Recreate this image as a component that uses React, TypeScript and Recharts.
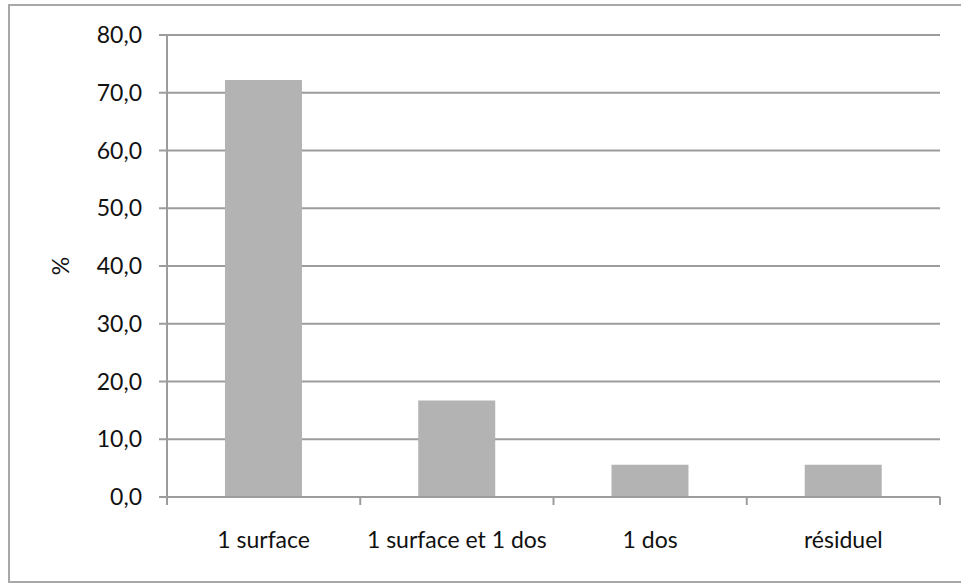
import React from "react";
import { BarChart, Bar, XAxis, YAxis, CartesianGrid, Label } from "recharts";

const categories = ["1 surface", "1 surface et 1 dos", "1 dos", "résiduel"];
const percentValues = [72.2, 16.7, 5.6, 5.6];
const yTicks = [0, 10, 20, 30, 40, 50, 60, 70, 80];

const data = categories.map((c, i) => ({ name: c, value: percentValues[i] }));

const FONT = "Lato, 'Open Sans', sans-serif";
const GRID = "#9c9c9c";

const XTick = (props: any) => {
  const { x, y, payload, index, visibleTicksCount } = props;
  const off = payload.offset || 0;
  const axisY = y - 35;
  const isLast = index === visibleTicksCount - 1;
  return (
    <g>
      <line x1={x - off} x2={x - off} y1={axisY} y2={axisY + 8} stroke={GRID} strokeWidth={2} />
      {isLast && (
        <line x1={x + off} x2={x + off} y1={axisY} y2={axisY + 8} stroke={GRID} strokeWidth={2} />
      )}
      <text x={x} y={y} dy="0.71em" textAnchor="middle" fill="#111" fontSize={23} fontFamily={FONT}>
        {payload.value}
      </text>
    </g>
  );
};

const PercentLabel = (props: any) => {
  const vb = props.viewBox || {};
  const cy = vb.y + vb.height / 2;
  const cx = 60;
  return (
    <text
      x={cx}
      y={cy}
      transform={`rotate(-90, ${cx}, ${cy})`}
      textAnchor="middle"
      dominantBaseline="central"
      fontSize={23}
      fontFamily={FONT}
      fill="#111"
    >
      %
    </text>
  );
};

export default function App() {
  return (
    <div style={{ position: "absolute", left: 0, top: 0, width: 961, height: 583, background: "#fff" }}>
      <div
        style={{
          position: "absolute",
          left: 8,
          top: 4,
          width: 960,
          height: 579,
          boxSizing: "border-box",
          borderTop: "2px solid #a8a8a8",
          borderLeft: "2px solid #a8a8a8",
          borderBottom: "2px solid #a8a8a8",
        }}
      />
      <div style={{ position: "absolute", left: 0, top: 0 }}>
        <BarChart
          width={961}
          height={583}
          data={data}
          margin={{ top: 35, right: 21, bottom: 56, left: 0 }}
          barCategoryGap="30%"
        >
          <CartesianGrid vertical={false} stroke={GRID} strokeWidth={2} />
          <XAxis
            dataKey="name"
            height={30}
            tickLine={false}
            axisLine={{ stroke: GRID, strokeWidth: 2 }}
            tickSize={0}
            tickMargin={35}
            interval={0}
            tick={<XTick />}
          />
          <YAxis
            width={167}
            domain={[0, 80]}
            ticks={yTicks}
            interval={0}
            tickFormatter={(v: number) => v.toFixed(1).replace(".", ",")}
            tickSize={8}
            tickMargin={17}
            tickLine={{ stroke: GRID, strokeWidth: 2 }}
            axisLine={{ stroke: GRID, strokeWidth: 2 }}
            tick={{ fill: "#111", fontSize: 23, fontFamily: FONT }}
          >
            <Label content={<PercentLabel />} />
          </YAxis>
          <Bar dataKey="value" fill="#b3b3b3" isAnimationActive={false} />
        </BarChart>
      </div>
    </div>
  );
}
